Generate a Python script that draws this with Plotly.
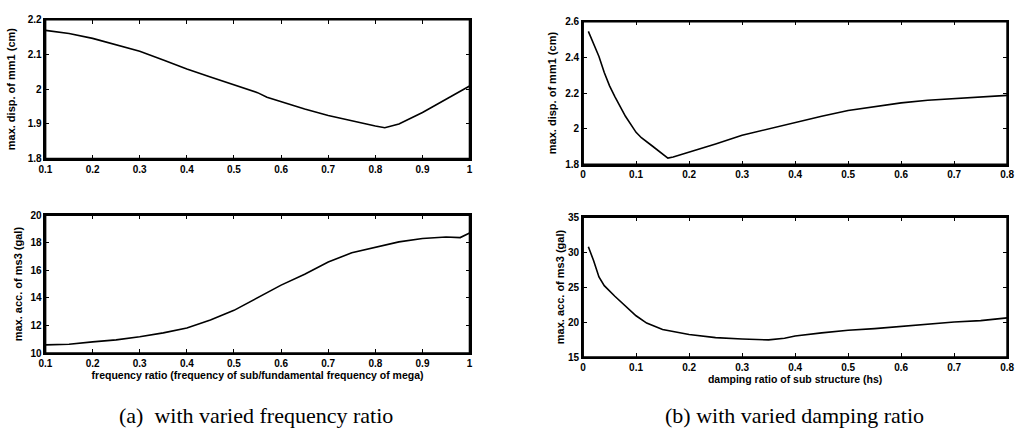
import plotly.graph_objects as go

# ---------------- data ----------------
# (a) varied frequency ratio
freq_ratio = [0.10, 0.15, 0.20, 0.25, 0.30, 0.35, 0.40, 0.45, 0.50, 0.55, 0.57, 0.60,
              0.65, 0.70, 0.75, 0.80, 0.82, 0.85, 0.90, 0.95, 1.00]
disp_a = [2.169, 2.160, 2.146, 2.128, 2.109, 2.084, 2.058, 2.035, 2.012, 1.990, 1.977, 1.964,
          1.943, 1.924, 1.908, 1.894, 1.889, 1.900, 1.933, 1.970, 2.009]

freq_ratio2 = [0.10, 0.15, 0.20, 0.25, 0.30, 0.35, 0.40, 0.45, 0.50, 0.55, 0.60, 0.65,
               0.70, 0.75, 0.80, 0.85, 0.90, 0.95, 0.98, 1.00]
acc_a = [10.60, 10.65, 10.82, 10.96, 11.19, 11.47, 11.82, 12.40, 13.10, 14.00, 14.93, 15.72,
         16.60, 17.27, 17.66, 18.06, 18.30, 18.41, 18.37, 18.70]

# (b) varied damping ratio
damp_ratio = [0.01, 0.02, 0.03, 0.04, 0.05, 0.06, 0.08, 0.10, 0.11, 0.13, 0.16, 0.17,
              0.20, 0.25, 0.30, 0.35, 0.40, 0.45, 0.50, 0.55, 0.60, 0.65, 0.70, 0.75, 0.80]
disp_b = [2.545, 2.478, 2.405, 2.315, 2.240, 2.180, 2.070, 1.980, 1.950, 1.905, 1.836, 1.842,
          1.869, 1.915, 1.964, 2.000, 2.033, 2.070, 2.102, 2.124, 2.145, 2.160, 2.169, 2.178, 2.187]

damp_ratio2 = [0.01, 0.02, 0.03, 0.04, 0.06, 0.08, 0.10, 0.12, 0.15, 0.20, 0.25, 0.30, 0.35,
               0.38, 0.40, 0.45, 0.50, 0.55, 0.60, 0.65, 0.70, 0.75, 0.80]
acc_b = [30.75, 28.76, 26.45, 25.20, 23.68, 22.30, 20.90, 19.85, 18.93, 18.23, 17.77, 17.58, 17.45,
         17.68, 18.00, 18.46, 18.83, 19.06, 19.40, 19.76, 20.00, 20.20, 20.60]

# tick labels
xa_ticks = [0.1, 0.2, 0.3, 0.4, 0.5, 0.6, 0.7, 0.8, 0.9, 1.0]
xa_text = ["0.1", "0.2", "0.3", "0.4", "0.5", "0.6", "0.7", "0.8", "0.9", "1"]
xb_ticks = [0, 0.1, 0.2, 0.3, 0.4, 0.5, 0.6, 0.7, 0.8]
xb_text = ["0", "0.1", "0.2", "0.3", "0.4", "0.5", "0.6", "0.7", "0.8"]
ya1_ticks = [1.8, 1.9, 2.0, 2.1, 2.2]
ya1_text = ["1.8", "1.9", "2", "2.1", "2.2"]
ya2_ticks = [10, 12, 14, 16, 18, 20]
ya2_text = ["10", "12", "14", "16", "18", "20"]
yb1_ticks = [1.8, 2.0, 2.2, 2.4, 2.6]
yb1_text = ["1.8", "2", "2.2", "2.4", "2.6"]
yb2_ticks = [15, 20, 25, 30, 35]
yb2_text = ["15", "20", "25", "30", "35"]

# ---------------- figure ----------------
W, H = 1028, 436
line_style = dict(color="black", width=1.6)

fig = go.Figure()
fig.add_trace(go.Scatter(x=freq_ratio, y=disp_a, mode="lines", line=line_style, xaxis="x", yaxis="y"))
fig.add_trace(go.Scatter(x=freq_ratio2, y=acc_a, mode="lines", line=line_style, xaxis="x2", yaxis="y2"))
fig.add_trace(go.Scatter(x=damp_ratio, y=disp_b, mode="lines", line=line_style, xaxis="x3", yaxis="y3"))
fig.add_trace(go.Scatter(x=damp_ratio2, y=acc_b, mode="lines", line=line_style, xaxis="x4", yaxis="y4"))

tick_font = dict(family="Liberation Sans, Arial", size=10, color="black", weight="bold")
xtitle_font = dict(family="Liberation Sans, Arial", size=10.5, color="black", weight="bold")
ytitle_font = dict(family="Liberation Sans, Arial", size=11, color="black", weight="bold")

def ax(dom, rng, tv, tt, anchor, title=None, standoff=2, tfont=None):
    d = dict(domain=dom, range=rng, tickvals=tv, ticktext=tt, anchor=anchor,
             showline=True, linecolor="black", linewidth=1.8, mirror="allticks",
             ticks="inside", ticklen=4, tickwidth=1, tickcolor="black",
             showgrid=False, zeroline=False, tickfont=tick_font, fixedrange=True)
    if title:
        d["title"] = dict(text=title, font=tfont, standoff=standoff)
    return d

def xd(l, r):
    return [l / W, r / W]

def yd(b, t):
    return [1 - b / H, 1 - t / H]

fig.update_layout(
    width=W, height=H, margin=dict(l=0, r=0, t=0, b=0),
    paper_bgcolor="white", plot_bgcolor="white", showlegend=False,
    xaxis=ax(xd(39, 469), [0.1, 1.0], xa_ticks, xa_text, "y"),
    yaxis=ax(yd(157, 14), [1.8, 2.2], ya1_ticks, ya1_text, "x",
             "max. disp. of mm1 (cm)", 10, ytitle_font),
    xaxis2=ax(xd(39, 469), [0.1, 1.0], xa_ticks, xa_text, "y2",
              "frequency ratio (frequency of sub/fundamental frequency of mega)", 0, xtitle_font),
    yaxis2=ax(yd(357, 215), [10, 20], ya2_ticks, ya2_text, "x2",
              "max. acc. of ms3 (gal)", 6, ytitle_font),
    xaxis3=ax(xd(584, 1014), [0, 0.8], xb_ticks, xb_text, "y3"),
    yaxis3=ax(yd(163, 16), [1.8, 2.6], yb1_ticks, yb1_text, "x3",
              "max. disp. of mm1 (cm)", 6, ytitle_font),
    xaxis4=ax(xd(584, 1014), [0, 0.8], xb_ticks, xb_text, "y4",
              "damping ratio of sub structure (hs)", 0, xtitle_font),
    yaxis4=ax(yd(361, 217), [15, 35], yb2_ticks, yb2_text, "x4",
              "max. acc. of ms3 (gal)", 1, ytitle_font),
)

# full box frame around each plot area (MATLAB style)
for xa, ya in [("x", "y"), ("x2", "y2"), ("x3", "y3"), ("x4", "y4")]:
    fig.add_shape(type="rect", xref=f"{xa} domain", yref=f"{ya} domain",
                  x0=0, x1=1, y0=0, y1=1, line=dict(color="black", width=1.8),
                  fillcolor="rgba(0,0,0,0)", layer="above")

cap_font = dict(family="Liberation Serif, Times New Roman", size=22, color="black")
fig.add_annotation(text="(a)  with varied frequency ratio", x=252 / W, y=1 - 421 / H,
                   xref="paper", yref="paper", showarrow=False, font=cap_font,
                   xanchor="center", yanchor="middle")
fig.add_annotation(text="(b) with varied damping ratio", x=798 / W, y=1 - 421 / H,
                   xref="paper", yref="paper", showarrow=False, font=cap_font,
                   xanchor="center", yanchor="middle")

fig.write_html("out.html", config={"displayModeBar": False},
               post_script="document.body.style.margin='0px';document.body.style.overflow='hidden';")
